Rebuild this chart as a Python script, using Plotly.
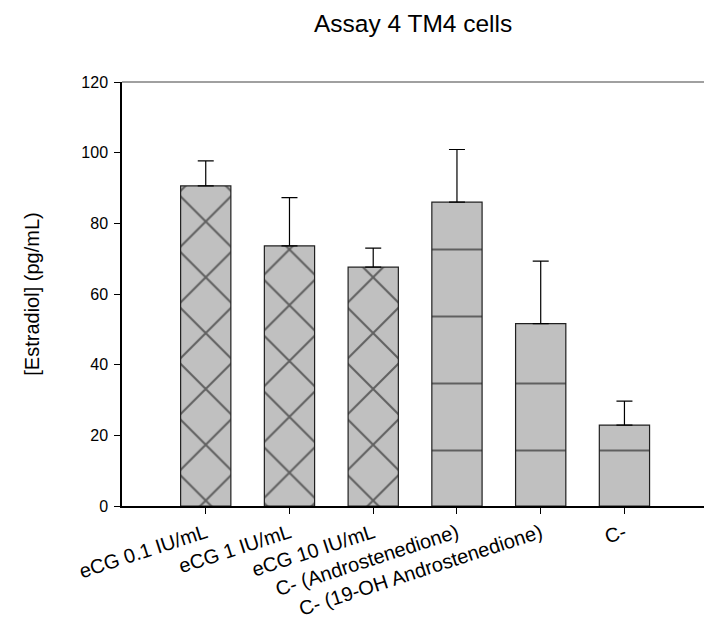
import plotly.graph_objects as go

categories = ["eCG 0.1 IU/mL", "eCG 1 IU/mL", "eCG 10 IU/mL",
              "C- (Androstenedione)", "C- (19-OH Androstenedione)", "C-"]
means = [90.6, 73.6, 67.6, 86.0, 51.6, 22.9]
errors_plus = [7.1, 13.7, 5.4, 14.9, 17.7, 6.8]
patterns = ["x", "x", "x", "-", "-", "-"]

FONT = "Liberation Sans, Arial, sans-serif"

fig = go.Figure()
fig.add_trace(go.Bar(
    x=list(range(len(categories))),
    y=means,
    width=0.6,
    marker=dict(
        color="#c0c0c0",
        line=dict(color="#202020", width=1.2),
        pattern=dict(
            shape=patterns,
            fgcolor="#000000",
            bgcolor="#c0c0c0",
            size=[39.46, 39.46, 39.46, 67, 67, 67],
            solidity=[0.1, 0.1, 0.1, 0.028, 0.028, 0.028],
            fillmode="overlay",
        ),
    ),
    error_y=dict(type="data", array=errors_plus, symmetric=False,
                 arrayminus=[0] * len(means),
                 color="#000000", thickness=1.2, width=8),
    showlegend=False,
))

fig.update_layout(
    width=704, height=622,
    margin=dict(l=122, r=0, t=82, b=116),
    paper_bgcolor="white", plot_bgcolor="white",
    font=dict(family=FONT, color="#000000", size=16),
    title=dict(text="Assay 4 TM4 cells", x=0.5868, xanchor="center",
               y=0.963, yanchor="middle", font=dict(size=24.5, family=FONT)),
    bargap=0.4,
)
fig.update_xaxes(
    range=[-1, 5.95], automargin=False,
    tickmode="array", tickvals=list(range(len(categories))), ticktext=categories,
    tickangle=-18, ticks="outside", ticklen=6, tickcolor="#000000", tickwidth=1.2,
    showline=True, linecolor="#000000", linewidth=1.5, showgrid=False, zeroline=False,
    tickfont=dict(size=20, family=FONT),
)
fig.update_yaxes(
    range=[0, 120], tickvals=[0, 20, 40, 60, 80, 100, 120], automargin=False,
    ticks="outside", ticklen=6, tickcolor="#000000", tickwidth=1.2,
    ticklabelstandoff=3,
    showline=True, linecolor="#000000", linewidth=1.5, showgrid=False, zeroline=False,
    title=dict(text="[Estradiol] (pg/mL)", font=dict(size=20, family=FONT), standoff=36),
    tickfont=dict(size=16, family=FONT),
)
fig.add_shape(type="line", xref="paper", yref="paper", x0=0, x1=1, y0=1, y1=1,
              line=dict(color="#808080", width=1.5))

fig.write_html("out.html")
